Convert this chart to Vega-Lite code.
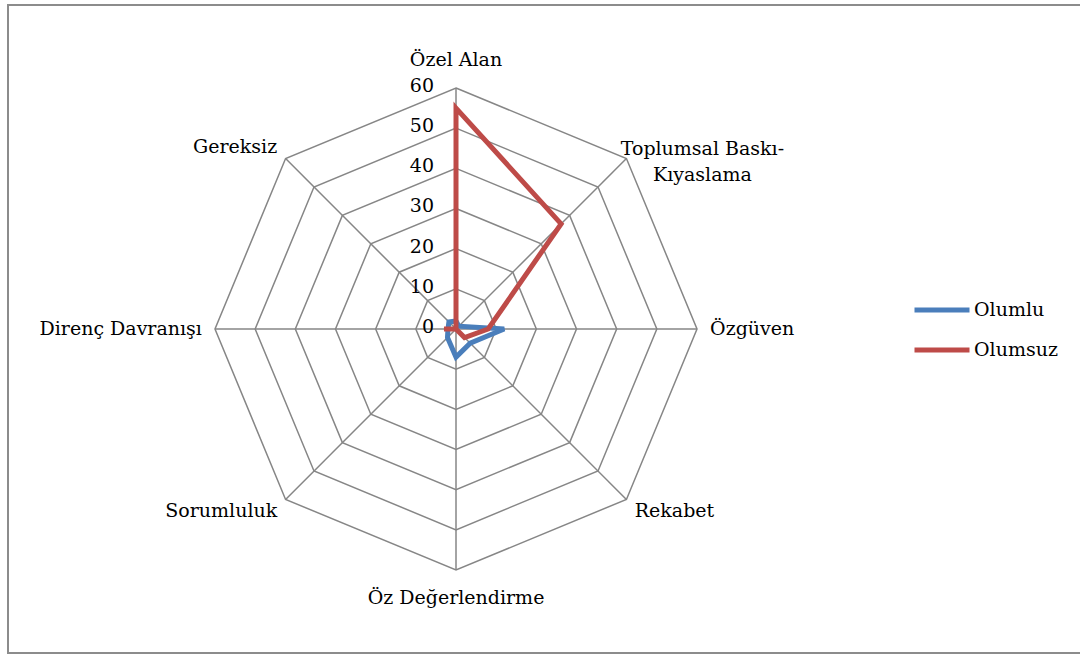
{
  "$schema": "https://vega.github.io/schema/vega-lite/v6.json",
  "width": 1080,
  "height": 655,
  "autosize": {"type": "fit", "contains": "padding"},
  "padding": {"left": 8, "top": 5, "right": -3, "bottom": 2},
  "background": "white",
  "config": {
    "view": {"stroke": "#8c8c8c", "strokeWidth": 2},
    "font": "DejaVu Serif",
    "text": {"font": "DejaVu Serif", "fontSize": 19, "fill": "#000000"}
  },
  "datasets": {
    "cats": [
      {"cat": "Özel Alan", "i": 0},
      {"cat": "Toplumsal Baskı-\nKıyaslama", "i": 1},
      {"cat": "Özgüven", "i": 2},
      {"cat": "Rekabet", "i": 3},
      {"cat": "Öz Değerlendirme", "i": 4},
      {"cat": "Sorumluluk", "i": 5},
      {"cat": "Direnç Davranışı", "i": 6},
      {"cat": "Gereksiz", "i": 7}
    ],
    "rings": [
      {"r": 10, "i": [0, 1, 2, 3, 4, 5, 6, 7]},
      {"r": 20, "i": [0, 1, 2, 3, 4, 5, 6, 7]},
      {"r": 30, "i": [0, 1, 2, 3, 4, 5, 6, 7]},
      {"r": 40, "i": [0, 1, 2, 3, 4, 5, 6, 7]},
      {"r": 50, "i": [0, 1, 2, 3, 4, 5, 6, 7]},
      {"r": 60, "i": [0, 1, 2, 3, 4, 5, 6, 7]}
    ],
    "levels": [
      {"level": 0}, {"level": 10}, {"level": 20}, {"level": 30},
      {"level": 40}, {"level": 50}, {"level": 60}
    ],
    "scores": [
      {"series": "Olumlu", "cat": "Özel Alan", "i": 0, "value": 2},
      {"series": "Olumlu", "cat": "Toplumsal Baskı-Kıyaslama", "i": 1, "value": 1},
      {"series": "Olumlu", "cat": "Özgüven", "i": 2, "value": 12},
      {"series": "Olumlu", "cat": "Rekabet", "i": 3, "value": 5},
      {"series": "Olumlu", "cat": "Öz Değerlendirme", "i": 4, "value": 7},
      {"series": "Olumlu", "cat": "Sorumluluk", "i": 5, "value": 3},
      {"series": "Olumlu", "cat": "Direnç Davranışı", "i": 6, "value": 2},
      {"series": "Olumlu", "cat": "Gereksiz", "i": 7, "value": 2.5},
      {"series": "Olumsuz", "cat": "Özel Alan", "i": 0, "value": 55},
      {"series": "Olumsuz", "cat": "Toplumsal Baskı-Kıyaslama", "i": 1, "value": 37},
      {"series": "Olumsuz", "cat": "Özgüven", "i": 2, "value": 8},
      {"series": "Olumsuz", "cat": "Rekabet", "i": 3, "value": 3},
      {"series": "Olumsuz", "cat": "Öz Değerlendirme", "i": 4, "value": 0},
      {"series": "Olumsuz", "cat": "Sorumluluk", "i": 5, "value": 0},
      {"series": "Olumsuz", "cat": "Direnç Davranışı", "i": 6, "value": 3},
      {"series": "Olumsuz", "cat": "Gereksiz", "i": 7, "value": 0}
    ]
  },
  "encoding": {
    "x": {"field": "px", "type": "quantitative", "scale": {"domain": [-111.53, 156.09], "nice": false, "zero": false}, "axis": null},
    "y": {"field": "py", "type": "quantitative", "scale": {"domain": [-80.66, 80.66], "nice": false, "zero": false}, "axis": null}
  },
  "layer": [
    {
      "data": {"name": "rings"},
      "transform": [
        {"flatten": ["i"]},
        {"calculate": "datum.r*sin(datum.i*PI/4)", "as": "px"},
        {"calculate": "datum.r*cos(datum.i*PI/4)", "as": "py"}
      ],
      "mark": {"type": "line", "interpolate": "linear-closed", "stroke": "#868686", "strokeWidth": 1.5},
      "encoding": {
        "detail": {"field": "r", "type": "nominal"},
        "order": {"field": "i", "type": "quantitative"}
      }
    },
    {
      "data": {"name": "cats"},
      "transform": [
        {"calculate": "60*sin(datum.i*PI/4)", "as": "px"},
        {"calculate": "60*cos(datum.i*PI/4)", "as": "py"}
      ],
      "mark": {"type": "rule", "stroke": "#868686", "strokeWidth": 1.5},
      "encoding": {
        "x2": {"datum": 0},
        "y2": {"datum": 0}
      }
    },
    {
      "data": {"name": "scores"},
      "transform": [
        {"calculate": "datum.value*sin(datum.i*PI/4)", "as": "px"},
        {"calculate": "datum.value*cos(datum.i*PI/4)", "as": "py"}
      ],
      "mark": {"type": "line", "interpolate": "linear-closed", "strokeWidth": 5, "strokeJoin": "miter"},
      "encoding": {
        "color": {
          "field": "series",
          "type": "nominal",
          "scale": {"domain": ["Olumlu", "Olumsuz"], "range": ["#4A7EBB", "#BE4B48"]},
          "legend": {
            "title": null,
            "orient": "none",
            "legendX": 904,
            "legendY": 275,
            "symbolType": "stroke",
            "symbolSize": 3025,
            "symbolStrokeWidth": 5,
            "labelFont": "DejaVu Serif",
            "labelFontSize": 19,
            "labelColor": "#000000",
            "labelOffset": 2,
            "rowPadding": -8,
            "padding": 0
          }
        },
        "order": {"field": "i", "type": "quantitative"}
      }
    },
    {
      "data": {"name": "levels"},
      "transform": [
        {"calculate": "0", "as": "px"},
        {"calculate": "datum.level", "as": "py"}
      ],
      "mark": {"type": "text", "align": "right", "baseline": "middle", "dx": -22, "dy": -2},
      "encoding": {"text": {"field": "level", "type": "quantitative"}}
    },
    {
      "data": {"name": "cats"},
      "transform": [
        {"filter": "datum.i == 0 || datum.i == 4"},
        {"calculate": "67*sin(datum.i*PI/4)", "as": "px"},
        {"calculate": "67*cos(datum.i*PI/4)", "as": "py"}
      ],
      "mark": {"type": "text", "align": "center", "baseline": "middle"},
      "encoding": {"text": {"field": "cat", "type": "nominal"}}
    },
    {
      "data": {"name": "cats"},
      "transform": [
        {"filter": "datum.i == 2 || datum.i == 3"},
        {"calculate": "64*sin(datum.i*PI/4)", "as": "px"},
        {"calculate": "64*cos(datum.i*PI/4)", "as": "py"}
      ],
      "mark": {"type": "text", "align": "left", "baseline": "middle", "dx": -3},
      "encoding": {"text": {"field": "cat", "type": "nominal"}}
    },
    {
      "data": {"name": "cats"},
      "transform": [
        {"filter": "datum.i >= 5"},
        {"calculate": "64*sin(datum.i*PI/4)", "as": "px"},
        {"calculate": "64*cos(datum.i*PI/4)", "as": "py"}
      ],
      "mark": {"type": "text", "align": "right", "baseline": "middle", "dx": 3},
      "encoding": {"text": {"field": "cat", "type": "nominal"}}
    },
    {
      "data": {"name": "cats"},
      "transform": [
        {"filter": "datum.i == 1"},
        {"calculate": "60*sin(datum.i*PI/4)", "as": "px"},
        {"calculate": "60*cos(datum.i*PI/4)", "as": "py"}
      ],
      "mark": {"type": "text", "align": "center", "baseline": "middle", "lineBreak": "\n", "lineHeight": 26, "dx": 76, "dy": -10},
      "encoding": {"text": {"field": "cat", "type": "nominal"}}
    }
  ]
}
